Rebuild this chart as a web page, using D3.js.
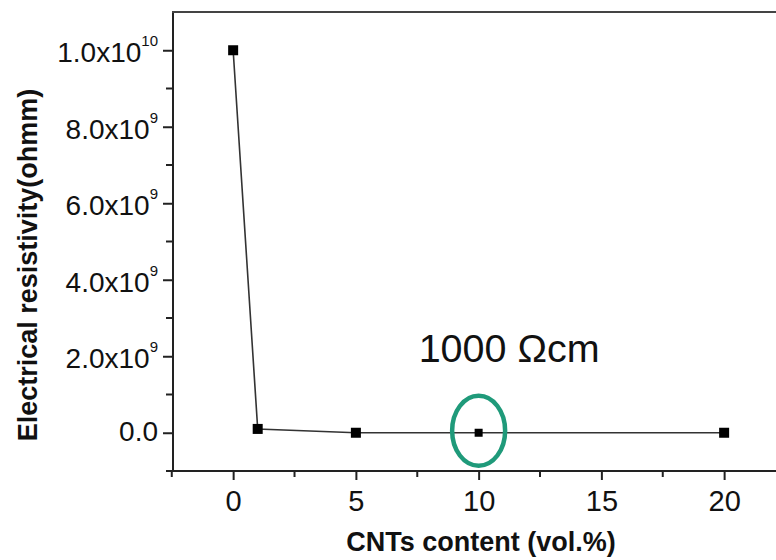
<!DOCTYPE html>
<html lang="en">
<head>
<meta charset="UTF-8">
<title>Electrical resistivity vs CNTs content</title>
<script src="https://cdn.jsdelivr.net/npm/d3@7"></script>
<style>
  body { margin: 0; background: #fff; }
  svg { display: block; font-family: "Liberation Sans", Arial, sans-serif; }
</style>
</head>
<body>
<svg id="chart" width="776" height="560"></svg>
<script>
// data
const cntContent = [0, 1, 5, 10, 20];              // vol.%
const resistivity = [1.0e10, 1.0e8, 0, 0, 0];      // ohm m
const xTicks = [0, 5, 10, 15, 20];
const yTicks = [0, 2e9, 4e9, 6e9, 8e9, 1e10];
const yTickLabels = [["0.0", ""], ["2.0x10", "9"], ["4.0x10", "9"], ["6.0x10", "9"], ["8.0x10", "9"], ["1.0x10", "10"]];
const noteX = 10;
const noteText = "1000 \u03A9cm";

const svg = d3.select("#chart");
svg.append("rect").attr("width", 776).attr("height", 560).attr("fill", "#fff");

const x = d3.scaleLinear().domain([-2.45, 22.5]).range([173, 785.5]);
const y = d3.scaleLinear().domain([-1e9, 1.1e10]).range([471, 12]);

const axisColor = "#222";

// x axis (bottom)
const gx = svg.append("g").attr("transform", "translate(0,471)");
gx.call(d3.axisBottom(x).tickValues(xTicks).tickSize(9).tickPadding(10).tickFormat(d3.format("d")));
gx.select(".domain").remove();
gx.selectAll(".tick line").attr("stroke", axisColor).attr("stroke-width", 2);
gx.selectAll(".tick text").attr("font-size", 29).attr("fill", "#111")
  .attr("font-family", "'Liberation Sans', Arial, sans-serif");
gx.selectAll(".minor").data(d3.range(-2.5, 22.6, 5)).enter().append("line")
  .attr("class", "minor")
  .attr("x1", d => x(d)).attr("x2", d => x(d))
  .attr("y1", 0).attr("y2", 6)
  .attr("stroke", axisColor).attr("stroke-width", 2);

// y axis (left)
const gy = svg.append("g").attr("transform", "translate(173,0)");
gy.call(d3.axisLeft(y).tickValues(yTicks).tickSize(10).tickPadding(5).tickFormat(""));
gy.select(".domain").remove();
gy.selectAll(".tick line").attr("stroke", axisColor).attr("stroke-width", 2);
gy.selectAll(".tick").each(function (d, i) {
  const lab = yTickLabels[i];
  const t = d3.select(this).select("text")
    .attr("font-size", 28).attr("fill", "#111")
    .attr("font-family", "'Liberation Sans', Arial, sans-serif")
    .attr("x", -15)
    .attr("dy", lab[1] ? 11.5 : 8);
  t.append("tspan").text(lab[0]);
  if (lab[1]) t.append("tspan").attr("font-size", 15).attr("dy", -16).text(lab[1]);
});
gy.selectAll(".minor").data(d3.range(-1e9, 1.05e10, 2e9)).enter().append("line")
  .attr("class", "minor")
  .attr("x1", 0).attr("x2", -7)
  .attr("y1", d => y(d)).attr("y2", d => y(d))
  .attr("stroke", axisColor).attr("stroke-width", 2);

// frame lines: left, bottom, top
svg.append("line").attr("x1", 173).attr("x2", 173).attr("y1", 11).attr("y2", 472)
  .attr("stroke", axisColor).attr("stroke-width", 2);
svg.append("line").attr("x1", 172).attr("x2", 776).attr("y1", 471).attr("y2", 471)
  .attr("stroke", axisColor).attr("stroke-width", 2);
svg.append("line").attr("x1", 172).attr("x2", 776).attr("y1", 12).attr("y2", 12)
  .attr("stroke", "#444").attr("stroke-width", 2);

// series
const pts = cntContent.map((c, i) => [c, resistivity[i]]);
svg.append("path").datum(pts)
  .attr("fill", "none").attr("stroke", "#333").attr("stroke-width", 1.6)
  .attr("d", d3.line().x(d => x(d[0])).y(d => y(d[1])));

svg.selectAll(".pt").data(pts).enter().append("rect")
  .attr("class", "pt")
  .each(function (d) {
    const s = d[0] === noteX ? 8 : 10;
    d3.select(this).attr("x", x(d[0]) - s / 2).attr("y", y(d[1]) - s / 2)
      .attr("width", s).attr("height", s);
  })
  .attr("fill", "#000");

// highlight ellipse + note
svg.append("ellipse")
  .attr("cx", x(noteX)).attr("cy", y(0) - 2)
  .attr("rx", 26.5).attr("ry", 35)
  .attr("fill", "none").attr("stroke", "#1f9a7a").attr("stroke-width", 4.5);

svg.append("text")
  .attr("x", x(noteX) - 60).attr("y", 362)
  .attr("font-size", 39.5).attr("fill", "#111")
  .text(noteText);

// axis titles
svg.append("text")
  .attr("transform", "translate(37,265) rotate(-90)")
  .attr("text-anchor", "middle")
  .attr("font-size", 27).attr("font-weight", "bold").attr("fill", "#111")
  .text("Electrical resistivity(ohmm)");

svg.append("text")
  .attr("x", 481).attr("y", 551)
  .attr("text-anchor", "middle")
  .attr("font-size", 27).attr("font-weight", "bold").attr("fill", "#111")
  .text("CNTs content (vol.%)");
</script>
</body>
</html>
